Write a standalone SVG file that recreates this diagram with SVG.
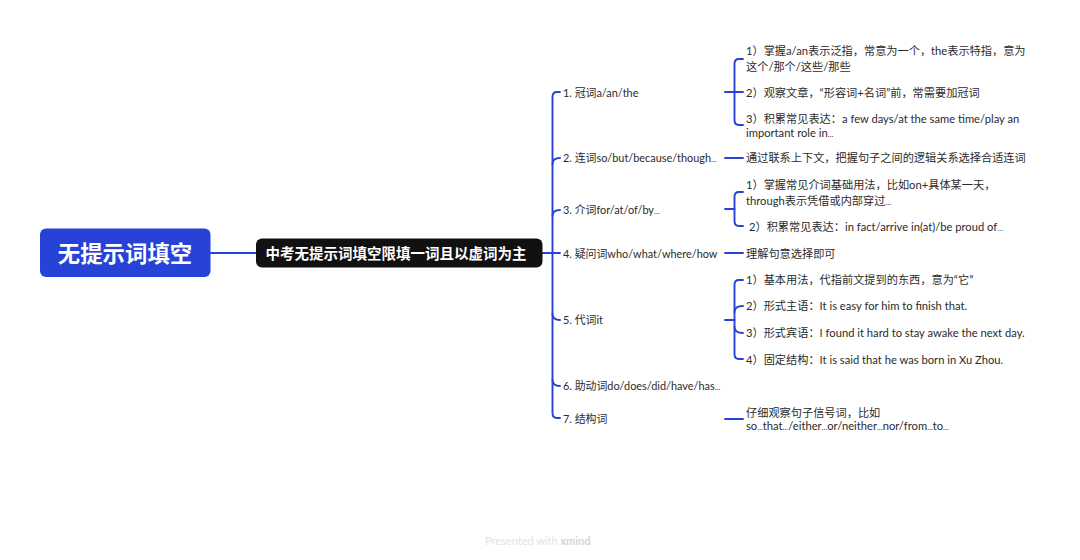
<svg xmlns="http://www.w3.org/2000/svg" width="1080" height="560" viewBox="0 0 1080 560">
<style>
text{font-family:"Lato","Noto Sans CJK SC",sans-serif;font-size:11.2px;fill:#2b2b2b}
.m{font-size:10.9px}
.e{font-size:7.5px}
.c{fill:none;stroke:#2742d6;stroke-width:1.9;stroke-linecap:round}
.r{fill:#2742d6}
.k{fill:#111}
.big{font-size:22.4px;font-weight:700;fill:#fff;text-anchor:middle;font-family:"Noto Sans CJK SC",sans-serif}
.sub{font-size:14.5px;font-weight:700;fill:#fff;text-anchor:middle;font-family:"Noto Sans CJK SC",sans-serif}
</style>
<rect width="1080" height="560" fill="#fff"/>
<g id="connectors" class="c">
<path d="M210 253H256"/>
<path d="M542 253H552.5"/>
<path d="M560 92H557Q552.500 92 552.500 97V413Q552.500 418 557 418H560"/>
<path d="M552.500 164Q552.500 158 560 158"/>
<path d="M552.500 216Q552.500 210 560 210"/>
<path d="M552.500 253H560"/>
<path d="M552.500 314Q552.500 320 560 320"/>
<path d="M552.500 380Q552.500 386 560 386"/>
<path d="M725 92H743"/>
<path d="M743 59H739Q734.500 59 734.500 64V120Q734.500 125 739 125H743"/>
<path d="M725 158H743"/>
<path d="M725 209H734.500"/>
<path d="M743 192H739Q734.500 192 734.500 197V221Q734.500 226 739 226H743"/>
<path d="M725 253H743"/>
<path d="M725 320H734.500"/>
<path d="M743 280H739Q734.500 280 734.500 285V354Q734.500 359 739 359H743"/>
<path d="M734.500 312Q734.500 306 743 306"/>
<path d="M734.500 327Q734.500 333 743 333"/>
<path d="M725 419H743"/>
</g>
<g id="root"><rect class="r" x="40" y="228.500" width="170.500" height="48.500" rx="6"/><text class="big" x="125" y="261.500">无提示词填空</text></g>
<g id="subject"><rect class="k" x="256" y="238.500" width="286.500" height="29" rx="6"/><text class="sub" x="396" y="258.800">中考无提示词填空限填一词且以虚词为主</text></g>
<g id="n1"><text class="m" x="563" y="96.500">1. 冠词a/an/the</text></g>
<g id="n1a"><text x="746" y="55">1）掌握a/an表示泛指，常意为一个，the表示特指，意为</text><text x="746" y="70.500">这个/那个/这些/那些</text></g>
<g id="n1b"><text x="746" y="96.500">2）观察文章，“形容词+名词”前，常需要加冠词</text></g>
<g id="n1c"><text x="746" y="123">3）积累常见表达：a few days/at the same time/play an</text><text x="746" y="136.500">important role in<tspan class="e">…</tspan></text></g>
<g id="n2"><text class="m" x="563" y="162">2. 连词so/but/because/though<tspan class="e">…</tspan></text></g>
<g id="n2a"><text x="746" y="162">通过联系上下文，把握句子之间的逻辑关系选择合适连词</text></g>
<g id="n3"><text class="m" x="563" y="214">3. 介词for/at/of/by<tspan class="e">…</tspan></text></g>
<g id="n3a"><text x="746" y="188.500">1）掌握常见介词基础用法，比如on+具体某一天，</text><text x="746" y="204.500">through表示凭借或内部穿过<tspan class="e">…</tspan></text></g>
<g id="n3b"><text x="749" y="231">2）积累常见表达：in fact/arrive in(at)/be proud of<tspan class="e">…</tspan></text></g>
<g id="n4"><text class="m" x="563" y="257.500">4. 疑问词who/what/where/how</text></g>
<g id="n4a"><text x="746" y="257.500">理解句意选择即可</text></g>
<g id="n5"><text class="m" x="563" y="324">5. 代词it</text></g>
<g id="n5a"><text x="746" y="284">1）基本用法，代指前文提到的东西，意为“它”</text></g>
<g id="n5b"><text x="746" y="310">2）形式主语：It is easy for him to finish that.</text></g>
<g id="n5c"><text x="746" y="337">3）形式宾语：I found it hard to stay awake the next day.</text></g>
<g id="n5d"><text x="746" y="364">4）固定结构：It is said that he was born in Xu Zhou.</text></g>
<g id="n6"><text class="m" x="563" y="390">6. 助动词do/does/did/have/has<tspan class="e">…</tspan></text></g>
<g id="n7"><text class="m" x="563" y="423">7. 结构词</text></g>
<g id="n7a"><text x="746" y="416.500">仔细观察句子信号词，比如</text><text x="746" y="430">so<tspan class="e">…</tspan>that<tspan class="e">…</tspan>/either<tspan class="e">…</tspan>or/neither<tspan class="e">…</tspan>nor/from<tspan class="e">…</tspan>to<tspan class="e">…</tspan></text></g>
<text x="485" y="545" style="fill:#e2e2e2;font-size:11px">Presented with <tspan font-weight="700" fill="#d4d4d4">xmind</tspan></text>
</svg>
